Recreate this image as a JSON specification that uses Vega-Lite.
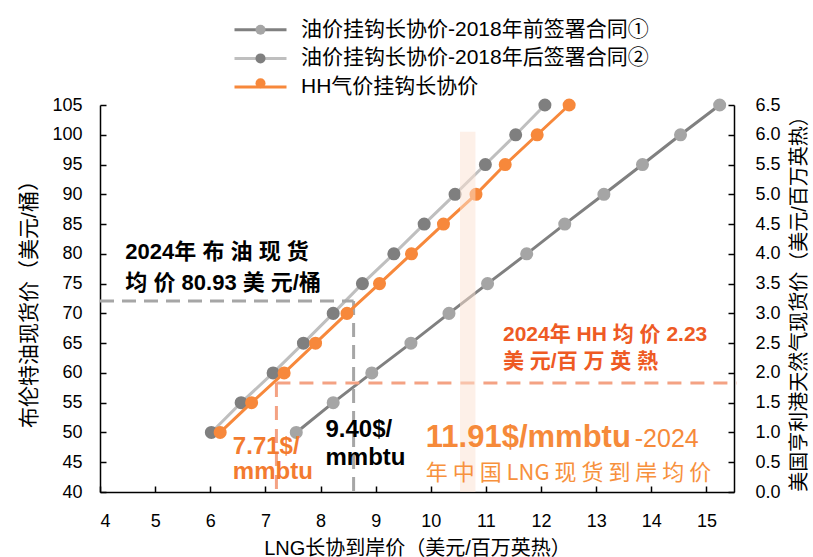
{
  "$schema": "https://vega.github.io/schema/vega-lite/v6.json",
  "width": 634,
  "height": 387,
  "autosize": "none",
  "padding": {"left": 100, "top": 105, "right": 79, "bottom": 65},
  "background": "white",
  "config": {
    "view": {"stroke": null},
    "font": "Liberation Sans, Noto Sans CJK SC",
    "axis": {
      "grid": false,
      "domainColor": "#000000",
      "domainWidth": 1.5,
      "tickColor": "#000000",
      "tickWidth": 1.5,
      "tickSize": -6,
      "labelOverlap": false,
      "labelFont": "Liberation Sans",
      "labelFontSize": 18,
      "labelColor": "#000000",
      "titleFont": "Liberation Sans, Noto Sans CJK SC",
      "titleFontSize": 20,
      "titleFontWeight": "normal",
      "titleColor": "#000000"
    },
    "legend": {"padding": 0, "labelFont": "Liberation Sans, Noto Sans CJK SC", "labelFontSize": 21, "labelColor": "#000000", "labelLimit": 600}
  },
  "datasets": {
    "oil": [
      {"series": "油价挂钩长协价-2018年前签署合同①", "oil": 50, "lng": 7.56},
      {"series": "油价挂钩长协价-2018年前签署合同①", "oil": 55, "lng": 8.23},
      {"series": "油价挂钩长协价-2018年前签署合同①", "oil": 60, "lng": 8.93},
      {"series": "油价挂钩长协价-2018年前签署合同①", "oil": 65, "lng": 9.64},
      {"series": "油价挂钩长协价-2018年前签署合同①", "oil": 70, "lng": 10.33},
      {"series": "油价挂钩长协价-2018年前签署合同①", "oil": 75, "lng": 11.03},
      {"series": "油价挂钩长协价-2018年前签署合同①", "oil": 80, "lng": 11.74},
      {"series": "油价挂钩长协价-2018年前签署合同①", "oil": 85, "lng": 12.43},
      {"series": "油价挂钩长协价-2018年前签署合同①", "oil": 90, "lng": 13.14},
      {"series": "油价挂钩长协价-2018年前签署合同①", "oil": 95, "lng": 13.84},
      {"series": "油价挂钩长协价-2018年前签署合同①", "oil": 100, "lng": 14.53},
      {"series": "油价挂钩长协价-2018年前签署合同①", "oil": 105, "lng": 15.24},
      {"series": "油价挂钩长协价-2018年后签署合同②", "oil": 50, "lng": 6.02},
      {"series": "油价挂钩长协价-2018年后签署合同②", "oil": 55, "lng": 6.56},
      {"series": "油价挂钩长协价-2018年后签署合同②", "oil": 60, "lng": 7.14},
      {"series": "油价挂钩长协价-2018年后签署合同②", "oil": 65, "lng": 7.69},
      {"series": "油价挂钩长协价-2018年后签署合同②", "oil": 70, "lng": 8.23},
      {"series": "油价挂钩长协价-2018年后签署合同②", "oil": 75, "lng": 8.76},
      {"series": "油价挂钩长协价-2018年后签署合同②", "oil": 80, "lng": 9.33},
      {"series": "油价挂钩长协价-2018年后签署合同②", "oil": 85, "lng": 9.88},
      {"series": "油价挂钩长协价-2018年后签署合同②", "oil": 90, "lng": 10.44},
      {"series": "油价挂钩长协价-2018年后签署合同②", "oil": 95, "lng": 10.99},
      {"series": "油价挂钩长协价-2018年后签署合同②", "oil": 100, "lng": 11.54},
      {"series": "油价挂钩长协价-2018年后签署合同②", "oil": 105, "lng": 12.07}
    ],
    "hh": [
      {"series": "HH气价挂钩长协价", "hh": 1.0, "lng": 6.18},
      {"series": "HH气价挂钩长协价", "hh": 1.5, "lng": 6.75},
      {"series": "HH气价挂钩长协价", "hh": 2.0, "lng": 7.34},
      {"series": "HH气价挂钩长协价", "hh": 2.5, "lng": 7.91},
      {"series": "HH气价挂钩长协价", "hh": 3.0, "lng": 8.48},
      {"series": "HH气价挂钩长协价", "hh": 3.5, "lng": 9.07},
      {"series": "HH气价挂钩长协价", "hh": 4.0, "lng": 9.65},
      {"series": "HH气价挂钩长协价", "hh": 4.5, "lng": 10.23},
      {"series": "HH气价挂钩长协价", "hh": 5.0, "lng": 10.82},
      {"series": "HH气价挂钩长协价", "hh": 5.5, "lng": 11.35},
      {"series": "HH气价挂钩长协价", "hh": 6.0, "lng": 11.93},
      {"series": "HH气价挂钩长协价", "hh": 6.5, "lng": 12.51}
    ],
    "brent_ref": [
      {"lng": 4, "lng2": 8.6, "oil": 72.1, "oil2": 72.1},
      {"lng": 8.6, "lng2": 8.6, "oil": 72.1, "oil2": 40}
    ],
    "hh_ref": [
      {"lng": 7.2, "lng2": 15.55, "hh": 1.83, "hh2": 1.83},
      {"lng": 7.2, "lng2": 7.2, "hh": 1.83, "hh2": 0}
    ],
    "band": [{"lng": 10.53, "lng2": 10.81, "oil": 40, "oil2": 100.5}],
    "note_black": [
      {"lng": 4.46, "oil": 80.36, "t": "2024年  布  油  现  货"},
      {"lng": 4.46, "oil": 75.05, "t": "均  价  80.93 美  元/桶"}
    ],
    "note_black2": [
      {"lng": 8.09, "oil": 50.4, "t": "9.40$/"},
      {"lng": 8.09, "oil": 45.66, "t": "mmbtu"}
    ],
    "note_orange": [
      {"lng": 6.41, "oil": 47.6, "t": "7.71$/"},
      {"lng": 6.41, "oil": 43.4, "t": "mmbtu"}
    ],
    "note_hh": [
      {"lng": 11.31, "oil": 66.37, "t": "2024年 HH 均  价 2.23"},
      {"lng": 11.31, "oil": 61.9, "t": "美  元/百  万  英  熱"}
    ],
    "note_big": [{"lng": 9.91, "oil": 47.6, "t": "11.91$/mmbtu"}],
    "note_year": [{"lng": 13.7, "oil": 47.6, "t": "-2024"}],
    "note_cn": [{"lng": 9.91, "oil": 43.14, "t": "年 中 国 LNG 现 货 到 岸 均 价"}]
  },
  "layer": [
    {
      "data": {"name": "oil"},
      "layer": [
        {
          "mark": {"type": "line", "strokeWidth": 3},
          "encoding": {
            "x": {"field": "lng", "type": "quantitative", "scale": {"domain": [4, 15.5], "nice": false, "zero": false},
              "axis": {"values": [4, 5, 6, 7, 8, 9, 10, 11, 12, 13, 14, 15], "tickCount": 12, "labelOverlap": false, "labelPadding": 26, "title": "LNG长协到岸价（美元/百万英热）", "titlePadding": 8}},
            "y": {"field": "oil", "type": "quantitative", "scale": {"domain": [40, 105], "nice": false, "zero": false},
              "axis": {"orient": "left", "values": [40, 45, 50, 55, 60, 65, 70, 75, 80, 85, 90, 95, 100, 105], "tickCount": 14, "labelOverlap": false, "labelBound": false, "labelPadding": 24, "title": "布伦特油现货价（美元/桶）", "titleFontSize": 21, "titlePadding": 12}},
            "stroke": {"field": "series", "type": "nominal",
              "scale": {"domain": ["油价挂钩长协价-2018年前签署合同①", "油价挂钩长协价-2018年后签署合同②", "HH气价挂钩长协价"], "range": ["#808080", "#bfbfbf", "#f7883b"]},
              "legend": {"orient": "none", "legendX": 150, "legendY": -85.7, "title": null, "symbolType": "M-5.2,0H5.2", "symbolSize": 100, "symbolStrokeWidth": 3, "labelOffset": 30, "rowPadding": 6.6, "direction": "vertical"}}
          }
        },
        {
          "mark": {"type": "point", "filled": true, "size": 170, "opacity": 1, "strokeWidth": 0},
          "encoding": {
            "x": {"field": "lng", "type": "quantitative"},
            "y": {"field": "oil", "type": "quantitative"},
            "fill": {"field": "series", "type": "nominal",
              "scale": {"domain": ["油价挂钩长协价-2018年前签署合同①", "油价挂钩长协价-2018年后签署合同②"], "range": ["#a5a5a5", "#7f7f7f"]},
              "legend": {"orient": "none", "legendX": 150, "legendY": -85.7, "title": null, "symbolType": "circle", "symbolSize": 100, "symbolStrokeWidth": 0, "symbolOpacity": 1, "labelOffset": 30, "rowPadding": 6.6, "labelExpr": "' '", "labelOpacity": 0, "direction": "vertical"}}
          }
        },
        {
          "data": {"name": "brent_ref"},
          "mark": {"type": "rule", "stroke": "#a6a6a6", "strokeWidth": 3, "strokeDash": [14, 8]},
          "encoding": {
            "x": {"field": "lng", "type": "quantitative"},
            "x2": {"field": "lng2"},
            "y": {"field": "oil", "type": "quantitative"},
            "y2": {"field": "oil2"}
          }
        }
      ]
    },
    {
      "data": {"name": "hh"},
      "layer": [
        {
          "mark": {"type": "line", "strokeWidth": 3},
          "encoding": {
            "x": {"field": "lng", "type": "quantitative"},
            "y": {"field": "hh", "type": "quantitative", "scale": {"domain": [0, 6.5], "nice": false},
              "axis": {"orient": "right", "values": [0, 0.5, 1, 1.5, 2, 2.5, 3, 3.5, 4, 4.5, 5, 5.5, 6, 6.5], "tickCount": 14, "format": ".1f", "labelOverlap": false, "labelBound": false, "labelPadding": 27, "title": "美国亨利港天然气现货价（美元/百万英热）", "titleAngle": -90, "titleBaseline": "top", "titlePadding": 9}},
            "stroke": {"field": "series", "type": "nominal"}
          }
        },
        {
          "mark": {"type": "point", "filled": true, "size": 170, "opacity": 1, "strokeWidth": 0},
          "encoding": {
            "x": {"field": "lng", "type": "quantitative"},
            "y": {"field": "hh", "type": "quantitative"},
            "fill": {"field": "series", "type": "nominal",
              "scale": {"domain": ["HH气价挂钩长协价"], "range": ["#f7883b"]},
              "legend": {"orient": "none", "legendX": 150, "legendY": -32.2, "title": null, "symbolType": "circle", "symbolSize": 100, "symbolStrokeWidth": 0, "symbolOpacity": 1, "labelOffset": 30, "labelExpr": "' '", "labelOpacity": 0, "direction": "vertical"}}
          }
        },
        {
          "data": {"name": "hh_ref"},
          "mark": {"type": "rule", "stroke": "#f4a283", "strokeWidth": 3, "strokeDash": [14, 9]},
          "encoding": {
            "x": {"field": "lng", "type": "quantitative"},
            "x2": {"field": "lng2"},
            "y": {"field": "hh", "type": "quantitative"},
            "y2": {"field": "hh2"}
          }
        }
      ]
    },
    {
      "layer": [
        {
          "data": {"name": "band"},
          "mark": {"type": "rect", "fill": "#fbe1d1", "opacity": 0.5},
          "encoding": {
            "x": {"field": "lng", "type": "quantitative"},
            "x2": {"field": "lng2"},
            "y": {"field": "oil", "type": "quantitative", "scale": {"domain": [40, 105], "nice": false, "zero": false}, "axis": null},
            "y2": {"field": "oil2"}
          }
        },
        {
          "data": {"name": "note_black"},
          "mark": {"type": "text", "align": "left", "baseline": "middle", "fontSize": 22, "fontWeight": "bold", "color": "#000000", "font": "Liberation Sans, Noto Sans CJK SC"},
          "encoding": {
            "x": {"field": "lng", "type": "quantitative"},
            "y": {"field": "oil", "type": "quantitative", "axis": null},
            "text": {"field": "t"}
          }
        },
        {
          "data": {"name": "note_black2"},
          "mark": {"type": "text", "align": "left", "baseline": "middle", "fontSize": 24, "fontWeight": "bold", "color": "#000000", "font": "Liberation Sans"},
          "encoding": {
            "x": {"field": "lng", "type": "quantitative"},
            "y": {"field": "oil", "type": "quantitative", "axis": null},
            "text": {"field": "t"}
          }
        },
        {
          "data": {"name": "note_orange"},
          "mark": {"type": "text", "align": "left", "baseline": "middle", "fontSize": 24, "fontWeight": "bold", "color": "#f37b2f", "font": "Liberation Sans"},
          "encoding": {
            "x": {"field": "lng", "type": "quantitative"},
            "y": {"field": "oil", "type": "quantitative", "axis": null},
            "text": {"field": "t"}
          }
        },
        {
          "data": {"name": "note_hh"},
          "mark": {"type": "text", "align": "left", "baseline": "middle", "fontSize": 21, "fontWeight": "bold", "color": "#ee5a24", "font": "Liberation Sans, Noto Sans CJK SC"},
          "encoding": {
            "x": {"field": "lng", "type": "quantitative"},
            "y": {"field": "oil", "type": "quantitative", "axis": null},
            "text": {"field": "t"}
          }
        },
        {
          "data": {"name": "note_big"},
          "mark": {"type": "text", "align": "left", "baseline": "alphabetic", "fontSize": 31, "fontWeight": "bold", "color": "#f68a3a", "font": "Liberation Sans"},
          "encoding": {
            "x": {"field": "lng", "type": "quantitative"},
            "y": {"field": "oil", "type": "quantitative", "axis": null},
            "text": {"field": "t"}
          }
        },
        {
          "data": {"name": "note_year"},
          "mark": {"type": "text", "align": "left", "baseline": "alphabetic", "fontSize": 25, "fontWeight": "normal", "color": "#f68a3a", "font": "Liberation Sans"},
          "encoding": {
            "x": {"field": "lng", "type": "quantitative"},
            "y": {"field": "oil", "type": "quantitative", "axis": null},
            "text": {"field": "t"}
          }
        },
        {
          "data": {"name": "note_cn"},
          "mark": {"type": "text", "align": "left", "baseline": "middle", "fontSize": 22, "fontWeight": "normal", "color": "#f7913d", "font": "Noto Sans CJK SC"},
          "encoding": {
            "x": {"field": "lng", "type": "quantitative"},
            "y": {"field": "oil", "type": "quantitative", "axis": null},
            "text": {"field": "t"}
          }
        }
      ]
    }
  ],
  "resolve": {"scale": {"y": "independent", "fill": "independent"}}
}
